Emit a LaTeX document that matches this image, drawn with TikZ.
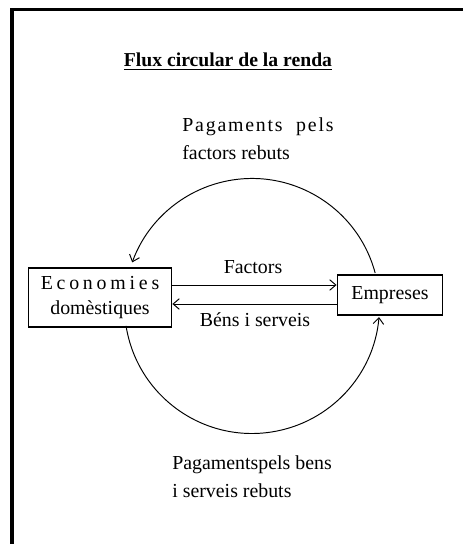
\documentclass[tikz,border=0pt]{standalone}
\usepackage{fontspec}
\setmainfont{Liberation Serif}
\usepackage{tikz}
\usetikzlibrary{arrows.meta,positioning}

\begin{document}
\begin{tikzpicture}[scale=0.2, >={Straight Barb[length=3.5pt,width=6pt]}]
\tikzstyle{every node}+=[inner sep=0pt]
\tikzstyle{box}=[draw=black, line width=0.8pt, align=center]
\tikzstyle{flow}=[black, line width=0.55pt, ->]
\tikzstyle{txt}=[font=\fontsize{11.3}{15.9}\selectfont, align=left]
\useasboundingbox (0,0) rectangle (46.2,-54.4);
\draw [black, line width=2pt] (1.2,-0.95) rectangle (48,-57);
\draw (22.8,-6.2) node (title) [font=\bfseries\fontsize{11.2}{13}\selectfont] {\underline{Flux circular de la renda}};
\draw (18.2,-13.9) node (pagfact) [txt, anchor=west] {{\addfontfeature{LetterSpace=9}Pagaments\ \ pels}\\factors rebuts};
\draw (10.0,-29.75) node (econ) [box, minimum width=81.6pt, minimum height=33.5pt, font=\fontsize{11.3}{14.2}\selectfont] {{\addfontfeature{LetterSpace=19}Economies}\\domèstiques};
\draw (39.0,-29.5) node (emp) [box, minimum width=60pt, minimum height=22.7pt, font=\fontsize{11.3}{14}\selectfont] {Empreses};
\draw (25.3,-26.7) node (factors) [txt] {Factors};
\draw (25.5,-32.0) node (bens) [txt] {Béns i serveis};
\draw (17.2,-47.65) node (pagbens) [txt, anchor=west] {Pagamentspels bens\\i serveis rebuts};
% cercle del flux
\coordinate (c) at (25.2,-30.6);
\draw [flow] (econ.east |- 0,-28.5) -- (emp.west |- 0,-28.5);
\draw [flow] (emp.west |- 0,-30.4) -- (econ.east |- 0,-30.4);
\draw [flow] ([shift={(15:12.75)}]c) arc (15:160:12.75);
\draw [flow] ([shift={(189:12.75)}]c) arc (189:355:12.75);
\end{tikzpicture}
\end{document}
